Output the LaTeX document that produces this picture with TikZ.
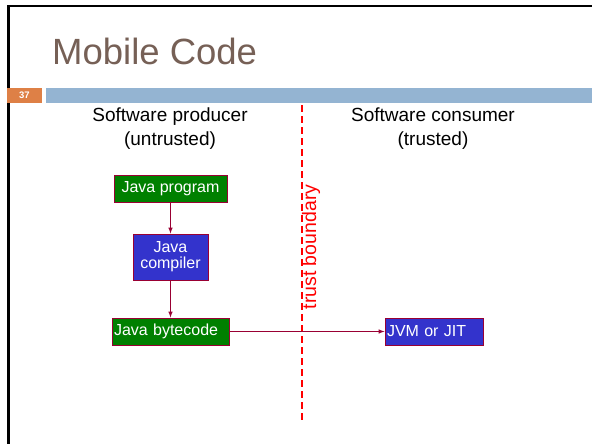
\documentclass[tikz,border=0pt]{standalone}
\usepackage{fontspec}
\setmainfont{Liberation Sans}
\usepackage{tikz}
\usetikzlibrary{shapes,arrows,positioning}
\definecolor{titlebrown}{RGB}{118,96,86}
\definecolor{barblue}{RGB}{148,180,210}
\definecolor{barorange}{RGB}{222,128,70}
\definecolor{boxgreen}{RGB}{0,128,0}
\definecolor{boxblue}{RGB}{51,51,204}
\definecolor{boxline}{RGB}{153,0,51}
\tikzset{
	box/.style={draw=boxline, line width=1pt, text=white, inner sep=2pt,
		font=\fontsize{16}{18}\selectfont, minimum height=27pt},
	greenbox/.style={box, fill=boxgreen},
	bluebox/.style={box, fill=boxblue},
	flow/.style={draw=boxline, line width=1pt, -latex},
	side/.style={align=center, font=\fontsize{19}{24}\selectfont}
}

\begin{document}
\begin{tikzpicture}[x=1pt,y=-1pt]
			\useasboundingbox (0,0) rectangle (592,444);
			\draw[line width=2.5pt] (8.5,444) -- (8.5,6) -- (592,6);
			\path (52,65) node[anchor=base west, inner sep=0, text=titlebrown,
				font=\fontsize{36.5}{40}\selectfont] (title) {Mobile Code};
			\fill[barorange] (7,88) rectangle (42,103);
			\fill[barblue] (46,88) rectangle (592,103);
			\path (24.5,95.5) node[text=white, font=\fontsize{9.5}{10}\bfseries] (slideno) {37};
			\path (170,129) node[side] (producer) {Software producer\\(untrusted)};
			\path (433,129) node[side] (consumer) {Software consumer\\(trusted)};
			\path (302,105) coordinate (top) (302,423) coordinate (bottom);
			\draw[red, line width=1.2pt, dash pattern=on 7pt off 4pt] (top) -- (bottom);
			\path (311,247) node[rotate=90, text=red, font=\fontsize{19.5}{22}\selectfont] (trust) {trust boundary};
			\path (170.5,188.5) node[greenbox, minimum width=113pt] (program) {Java program};
			\path (170.5,257) node[bluebox, text width=71pt, align=center, minimum height=46pt]
				(compiler) {Java\\[-2pt]compiler};
			\path (170.5,331.5) node[greenbox, text width=113pt, align=left] (bytecode) {Java bytecode};
			\path (434,331.5) node[bluebox, text width=94pt, align=left] (jvm) {JVM or JIT};
			\draw[flow] (program) -- (compiler);
			\draw[flow] (compiler) -- (bytecode);
			\draw[flow] (bytecode) -- (jvm);
		\end{tikzpicture}
\end{document}
